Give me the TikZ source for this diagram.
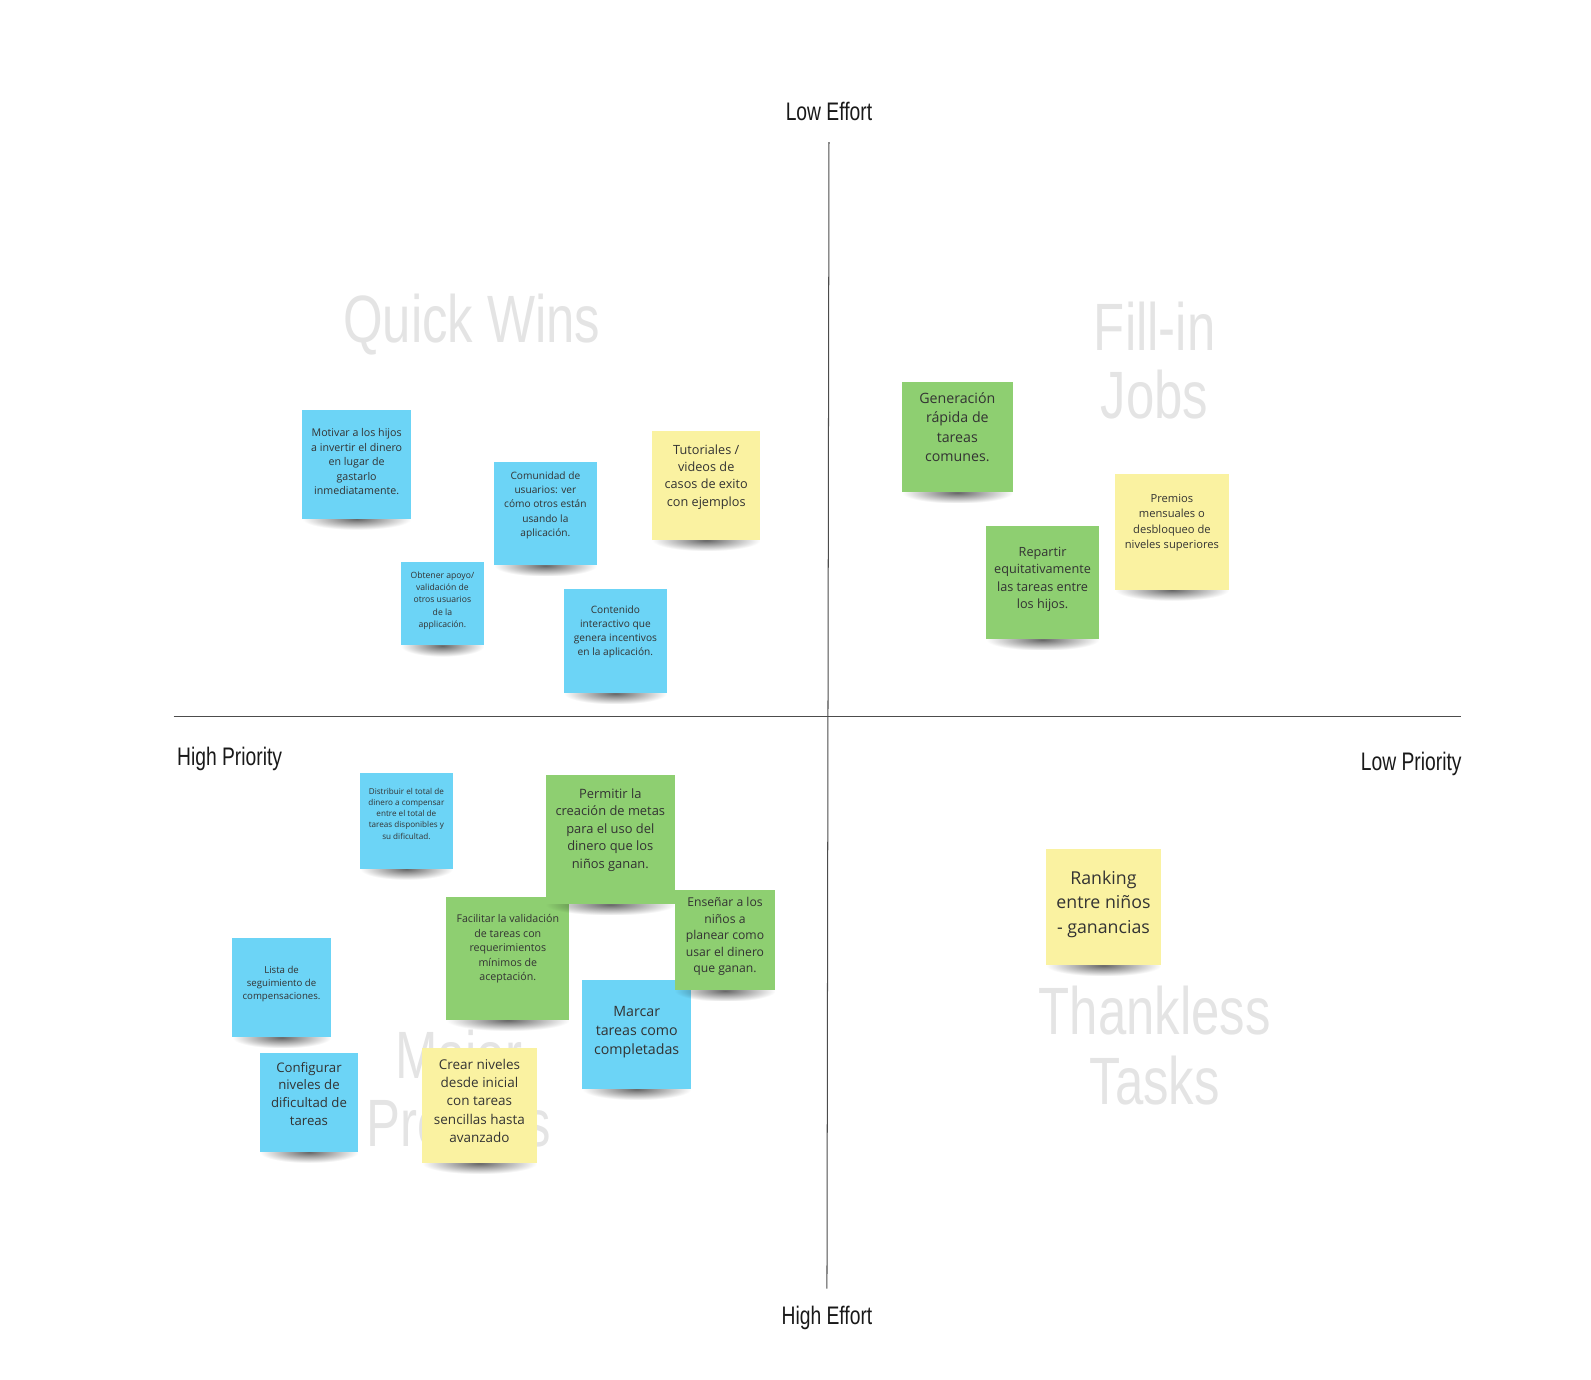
\documentclass[tikz,border=0pt]{standalone}
\usepackage{fontspec}
\setmainfont{Open Sans}
\newfontfamily\axisfont[FakeStretch=0.76]{Liberation Sans}
\usepackage{tikz}
\usetikzlibrary{calc, positioning, fadings}

\definecolor{noteblue}{HTML}{6CD4F6}
\definecolor{notegreen}{HTML}{8ECF71}
\definecolor{noteyellow}{HTML}{FAF2A1}
\definecolor{quadgray}{HTML}{E4E4E4}
\tikzfading[name=castfade, inner color=transparent!0, outer color=transparent!100]

\begin{document}
\begin{tikzpicture}[x=1pt, y=-1pt,
    notetext/.style={align=center, text=black!80, inner sep=0pt},
    axislabel/.style={font=\axisfont\fontsize{25}{30}\selectfont, text=black!90},
    quadrant/.style={font=\axisfont\fontsize{66}{71}\selectfont, text=quadgray, anchor=base},
    notecast/.style={fill=black, opacity=.6, path fading=castfade}]
      \useasboundingbox (0,0) rectangle (1568,1360);
      % axes
      \coordinate (top) at (817,140);
      \coordinate (bottom) at (815,1270);
      \coordinate (west) at (171,706);
      \coordinate (east) at (1440,706);
      \draw[black!70, line width=1pt] (top) -- (bottom);
      \draw[black!70, line width=1pt] (west) -- (east);
      \node[axislabel, anchor=base] (loweffort) at (817,119) {Low Effort};
      \node[axislabel, anchor=base] (higheffort) at (815,1305) {High Effort};
      \node[axislabel, anchor=base west] (highprio) at (171,754) {High Priority};
      \node[axislabel, anchor=base east] (lowprio) at (1444,759) {Low Priority};
      % quadrant titles
      \node[quadrant] (quick) at (465,338) {Quick Wins};
      \node[quadrant] (fillin) at (1138,345) {Fill-in};
      \node[quadrant] (jobs) at (1138,412) {Jobs};
      \node[quadrant] (major) at (452,1063) {Major};
      \node[quadrant] (projects) at (452,1130) {Projects};
      \node[quadrant] (thankless) at (1138,1020) {Thankless};
      \node[quadrant] (tasks) at (1138,1089) {Tasks};
      % sticky notes: name/x/y/width/height/colour/size/skip/text y/text
      \foreach \id/\px/\py/\pw/\ph/\col/\fs/\ls/\ty/\txt in {
        motivar/298/404/107/107/noteblue/10.5/14.3/455/{Motivar a los hijos\\a invertir el dinero\\en lugar de\\gastarlo\\inmediatamente.},
        comunidad/487/455/101/102/noteblue/10/14/498/{Comunidad de\\usuarios: ver\\cómo otros están\\usando la\\aplicación.},
        tutoriales/643/425/106/107/noteyellow/12.5/17/470/{Tutoriales /\\videos de\\casos de exito\\con ejemplos},
        obtener/395/554/82/82/noteblue/8.5/12.2/592/{Obtener apoyo/\\validación de\\otros usuarios\\de la\\applicación.},
        contenido/556/580/101/103/noteblue/10/13.7/623/{Contenido\\interactivo que\\genera incentivos\\en la aplicación.},
        generacion/889/376/109/109/notegreen/14/19.3/421/{Generación\\rápida de\\tareas\\comunes.},
        premios/1099/467/112/114/noteyellow/11/15.3/515/{Premios\\mensuales o\\desbloqueo de\\niveles superiores},
        repartir/972/518/111/112/notegreen/12.5/17/571/{Repartir\\equitativamente\\las tareas entre\\los hijos.},
        distribuir/355/762/91/94/noteblue/8/11/802/{Distribuir el total de\\dinero a compensar\\entre el total de\\tareas disponibles y\\su dificultad.},
        facilitar/440/884/121/121/notegreen/10.5/14.3/935/{Facilitar la validación\\de tareas con\\requerimientos\\mínimos de\\aceptación.},
        permitir/538/764/127/127/notegreen/12.7/17.3/818/{Permitir la\\creación de metas\\para el uso del\\dinero que los\\niños ganan.},
        marcar/574/966/107/107/noteblue/14/19/1017/{Marcar\\tareas como\\completadas},
        ensenar/665/877/99/99/notegreen/12/16.3/923/{Enseñar a los\\niños a\\planear como\\usar el dinero\\que ganan.},
        lista/229/924/97/98/noteblue/9.5/13/970/{Lista de\\seguimiento de\\compensaciones.},
        configurar/256/1038/97/97/noteblue/13/17.6/1078/{Configurar\\niveles de\\dificultad de\\tareas},
        crear/416/1033/113/113/noteyellow/13.3/18.2/1085/{Crear niveles\\desde inicial\\con tareas\\sencillas hasta\\avanzado},
        ranking/1031/837/113/114/noteyellow/17.5/24/891/{Ranking\\entre niños\\- ganancias}}{
        \fill[notecast] (\px,\py+\ph-10) rectangle (\px+\pw,\py+\ph+11);
        \fill[\col] (\px,\py) rectangle ++(\pw,\ph);
        \node[notetext, font=\fontsize{\fs}{\ls}\selectfont] (\id) at (\px+\pw/2,\ty) {\txt};
      }
    \end{tikzpicture}
\end{document}
